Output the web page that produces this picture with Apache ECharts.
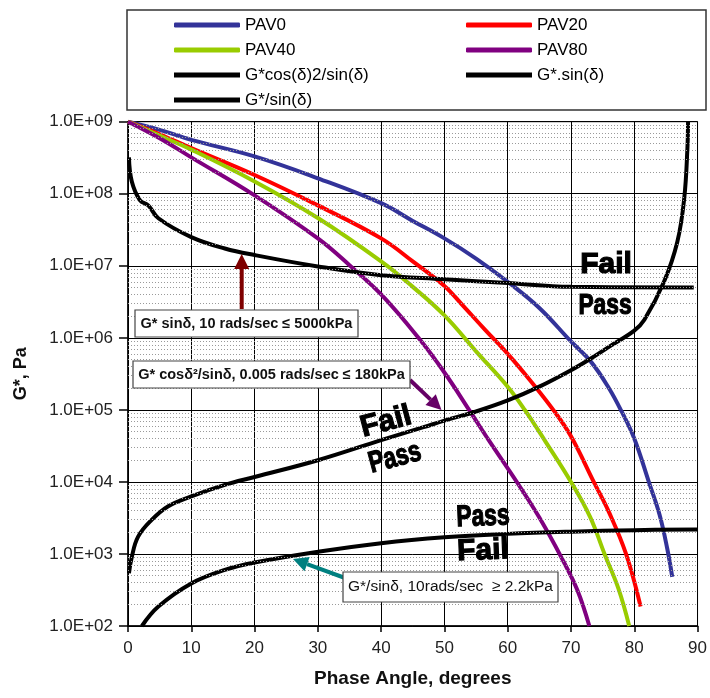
<!DOCTYPE html>
<html>
<head>
<meta charset="utf-8">
<script src="https://cdn.jsdelivr.net/npm/echarts@6/dist/echarts.min.js"></script>
<style>
  html, body { margin: 0; padding: 0; background: #fff; }
  #chart { width: 710px; height: 698px; }
</style>
</head>
<body>
<div id="chart"></div>
<script>
// phase angle (deg), G* (Pa)
const pav0 = [[0, 1e9], [5, 7.7e8], [10, 5.6e8], [20, 3.3e8], [30, 1.64e8], [40, 7.4e7], [45, 4.2e7], [50, 2.4e7],
  [55, 1.26e7], [60, 6.0e6], [65, 2.6e6], [70, 8.9e5], [73.2, 4.6e5], [76, 2.0e5], [78, 9.5e4], [80, 4.0e4],
  [82.3, 1.0e4], [84, 3.5e3], [85.2, 1.2e3], [86, 480]];
const pav20 = [[0, 1e9], [5, 6.7e8], [10, 4.3e8], [20, 1.82e8], [30, 6.9e7], [40, 2.4e7], [45, 1.15e7], [50, 5.25e6],
  [53, 2.75e6], [56.4, 1.3e6], [60, 6.0e5], [63.5, 2.6e5], [67.2, 1.0e5], [70, 4.3e4], [73.6, 1.0e4], [76, 3.8e3],
  [78.7, 1.0e3], [81, 186]];
const pav40 = [[0, 1e9], [5, 6.4e8], [10, 4.1e8], [20, 1.48e8], [30, 4.6e7], [40, 1.15e7], [45, 5.1e6], [50, 2.05e6],
  [55, 6.5e5], [60, 2.1e5], [62.7, 1.0e5], [66, 3.6e4], [70, 1.0e4], [73, 3.3e3], [75.3, 1.0e3], [77.5, 330],
  [79.2, 100]];
const pav80 = [[0, 1e9], [5, 5.9e8], [10, 3.2e8], [20, 9.5e7], [30, 2.4e7], [35, 1.02e7], [40, 4.0e6], [45.9, 1.0e6],
  [50, 3.3e5], [53.9, 1.0e5], [57, 3.8e4], [61.6, 9.5e3], [65, 3.2e3], [68.5, 890], [71, 316], [72.9, 100]];
const gCosSin = [[0.15, 540], [0.6, 910], [1.6, 1.74e3], [3.7, 2.95e3], [6.3, 4.57e3], [10, 6.3e3], [15.3, 9.1e3],
  [20, 1.17e4], [30, 2.0e4], [40, 3.8e4], [46.7, 5.75e4], [50, 7.1e4], [55, 9.5e4], [60, 1.35e5], [65, 2.1e5],
  [70, 3.55e5], [73.2, 5.2e5], [76.3, 7.8e5], [80, 1.26e6], [81.6, 1.78e6], [84.7, 6.0e6], [86.8, 2.14e7],
  [87.9, 8.7e7], [88.4, 4.3e8], [88.5, 1e9]];
const gSin = [[0.15, 3.2e8], [0.6, 1.48e8], [1.9, 8.1e7], [3.2, 6.9e7], [4.8, 4.57e7], [10, 2.5e7], [15.3, 1.74e7],
  [20, 1.41e7], [30, 9.8e6], [40, 7.4e6], [50, 6.5e6], [60, 5.75e6], [70, 5.1e6], [89.4, 5.0e6]];
const gOverSin = [[2.2, 100], [4.8, 186], [10, 389], [15.3, 600], [20, 760], [30, 1070], [40, 1410], [50, 1700],
  [60, 1900], [70, 2040], [80, 2140], [90, 2190]];

const xTicks = [0, 90, 10]; // min, max, step
const yRange = [1e2, 1e9];

const FONT = 'Liberation Sans, Arial, sans-serif';

// dotted minor grid at 2..9 of every decade
const minorLines = [];
for (let k = 2; k < 9; k++) {
  for (let m = 2; m <= 9; m++) minorLines.push({ yAxis: m * Math.pow(10, k) });
}

function lineSeries(name, data, color, width) {
  return {
    name: name,
    type: 'line',
    data: data,
    showSymbol: false,
    smooth: 0.4,
    lineStyle: { color: color, width: width },
    itemStyle: { color: color },
    z: 3
  };
}

function arrow(x1, y1, x2, y2, color, w, head) {
  const dx = x2 - x1, dy = y2 - y1;
  const len = Math.sqrt(dx * dx + dy * dy);
  const ux = dx / len, uy = dy / len;
  const bx = x2 - ux * head, by = y2 - uy * head;
  const px = -uy * head * 0.5, py = ux * head * 0.5;
  return [
    { type: 'line', z: 50, shape: { x1: x1, y1: y1, x2: bx, y2: by }, style: { stroke: color, lineWidth: w } },
    { type: 'polygon', z: 50, shape: { points: [[x2, y2], [bx + px, by + py], [bx - px, by - py]] }, style: { fill: color } }
  ];
}

function box(x, y, w, h, text, weight, size) {
  return [
    { type: 'rect', z: 60, shape: { x: x, y: y, width: w, height: h }, style: { fill: '#fff', stroke: '#444', lineWidth: 1.2 } },
    { type: 'text', z: 61, x: x + w / 2, y: y + h / 2,
      style: { text: text, fill: '#111', font: weight + ' ' + size + 'px ' + FONT, align: 'center', verticalAlign: 'middle' } }
  ];
}

function passFail(text, x, y, rot, sx) {
  return {
    type: 'text', z: 55, x: x, y: y, rotation: rot, scaleX: sx,
    style: { text: text, fill: '#000', stroke: '#000', lineWidth: 1.2, font: '900 30px ' + FONT,
      align: 'center', verticalAlign: 'middle' }
  };
}

const chart = echarts.init(document.getElementById('chart'));

const graphics = [
  { type: 'rect', z: 0, shape: { x: 127, y: 10, width: 579, height: 100 }, style: { fill: '#fff', stroke: '#333', lineWidth: 1.5 } }
]
  .concat(arrow(241.7, 309, 241.7, 254, '#7f0000', 4, 15))
  .concat(arrow(410, 380, 441.5, 410, '#660066', 4, 15))
  .concat(arrow(345, 578, 293, 559, '#008080', 4, 15))
  .concat(box(135, 310, 223, 27, 'G* sinδ, 10 rads/sec ≤ 5000kPa', 'bold', 14.5))
  .concat(box(133, 361, 277, 27, 'G* cosδ²/sinδ, 0.005 rads/sec ≤ 180kPa', 'bold', 14.5))
  .concat(box(343, 572, 215, 30, 'G*/sinδ, 10rads/sec  ≥ 2.2kPa', 'normal', 15.5))
  .concat([
    passFail('Fail', 606, 265, 0, 1),
    passFail('Pass', 605, 306, 0, 0.76),
    passFail('Fail', 386, 422, 0.26, 1),
    passFail('Pass', 395, 458, 0.26, 0.76),
    passFail('Pass', 483, 517, 0.04, 0.76),
    passFail('Fail', 483, 551, 0.04, 1)
  ]);

const legendText = { fontSize: 17, fontFamily: FONT, color: '#000', lineHeight: 20 };

chart.setOption({
  backgroundColor: '#fff',
  animation: false,
  grid: { left: 128, right: 10, top: 121.7, bottom: 72, show: true, borderColor: '#000', borderWidth: 1 },
  legend: [
    {
      left: 169, top: 10, orient: 'vertical', itemGap: 5, itemWidth: 66, itemHeight: 5, selectedMode: false,
      textStyle: legendText,
      data: [
        { name: 'PAV0', icon: 'roundRect' },
        { name: 'PAV40', icon: 'roundRect' },
        { name: 'G*cos(δ)2/sin(δ)', icon: 'rect' },
        { name: 'G*/sin(δ)', icon: 'rect' }
      ]
    },
    {
      left: 461, top: 10, orient: 'vertical', itemGap: 5, itemWidth: 66, itemHeight: 5, selectedMode: false,
      textStyle: legendText,
      data: [
        { name: 'PAV20', icon: 'roundRect' },
        { name: 'PAV80', icon: 'roundRect' },
        { name: 'G*.sin(δ)', icon: 'rect' }
      ]
    }
  ],
  xAxis: {
    type: 'value', min: xTicks[0], max: xTicks[1], interval: xTicks[2],
    name: 'Phase Angle, degrees', nameLocation: 'middle', nameGap: 43,
    nameTextStyle: { fontSize: 19, fontWeight: 'bold', fontFamily: FONT, color: '#111' },
    axisLine: { lineStyle: { color: '#000', width: 1.5 } },
    axisTick: { show: true, length: 6, lineStyle: { color: '#000', width: 1.5 } },
    axisLabel: { fontSize: 17, fontFamily: FONT, color: '#222', margin: 14 },
    splitLine: { show: true, lineStyle: { color: '#000', width: 1 } }
  },
  yAxis: {
    type: 'log', logBase: 10, min: yRange[0], max: yRange[1],
    name: 'G*, Pa', nameLocation: 'middle', nameGap: 98, nameRotate: 90,
    nameTextStyle: { fontSize: 18, fontWeight: 'bold', fontFamily: FONT, color: '#111' },
    axisLine: { show: true, lineStyle: { color: '#000', width: 1.5 } },
    axisTick: { show: true, length: 9, lineStyle: { color: '#000', width: 1.5 } },
    axisLabel: {
      fontSize: 17, fontFamily: FONT, color: '#222', margin: 15,
      formatter: function (v) {
        const e = Math.round(Math.log10(v));
        return '1.0E+' + (e < 10 ? '0' : '') + e;
      }
    },
    splitLine: { show: true, lineStyle: { color: '#000', width: 1 } }
  },
  graphic: graphics,
  series: [
    {
      name: 'grid-minor', type: 'line', data: [], silent: true,
      markLine: {
        silent: true, symbol: 'none', label: { show: false },
        lineStyle: { color: '#9a9a9a', type: [1, 2], width: 1 },
        data: minorLines
      },
      z: 1
    },
    lineSeries('PAV0', pav0, '#333399', 4),
    lineSeries('PAV20', pav20, '#ff0000', 4),
    lineSeries('PAV40', pav40, '#99cc00', 4),
    lineSeries('PAV80', pav80, '#800080', 4),
    lineSeries('G*cos(δ)2/sin(δ)', gCosSin, '#000000', 4),
    lineSeries('G*.sin(δ)', gSin, '#000000', 4),
    lineSeries('G*/sin(δ)', gOverSin, '#000000', 4)
  ]
});
</script>
</body>
</html>
